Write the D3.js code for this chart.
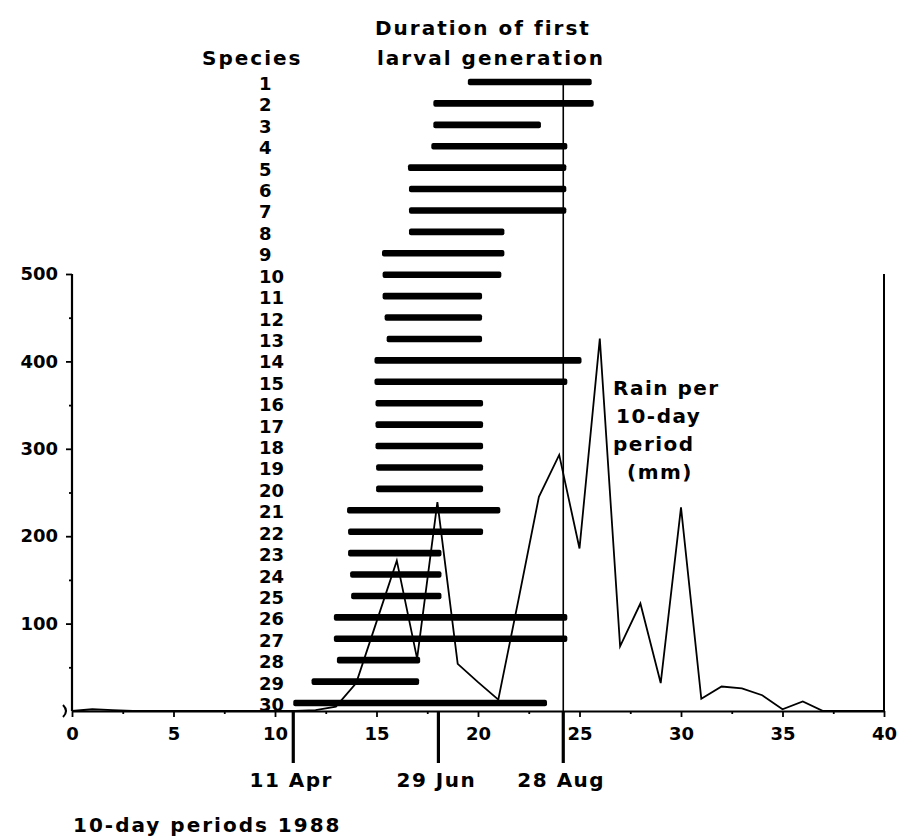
<!DOCTYPE html>
<html>
<head>
<meta charset="utf-8">
<script src="https://cdn.jsdelivr.net/npm/d3@7/dist/d3.min.js"></script>
<style>
body { margin: 0; background: #fff; }
text { font-family: "DejaVu Sans", sans-serif; font-weight: bold; fill: #000; }
</style>
</head>
<body>
<svg id="chart" width="900" height="838"></svg>
<script>
// first larval generation, start and end in 10-day periods
var species = [1, 2, 3, 4, 5, 6, 7, 8, 9, 10, 11, 12, 13, 14, 15,
               16, 17, 18, 19, 20, 21, 22, 23, 24, 25, 26, 27, 28, 29, 30];
var genStart = [19.5, 17.8, 17.8, 17.7, 16.55, 16.6, 16.6, 16.6, 15.27, 15.3,
                15.3, 15.4, 15.5, 14.9, 14.9, 14.95, 14.95, 14.95, 14.98, 14.98,
                13.55, 13.6, 13.6, 13.7, 13.75, 12.9, 12.9, 13.05, 11.8, 10.9];
var genEnd = [25.6, 25.7, 23.1, 24.4, 24.35, 24.35, 24.35, 21.3, 21.3, 21.15,
              20.2, 20.2, 20.2, 25.1, 24.4, 20.25, 20.25, 20.25, 20.25, 20.25,
              21.1, 20.25, 18.2, 18.2, 18.2, 24.4, 24.4, 17.15, 17.1, 23.4];

// rain per 10-day period (mm), periods 0..40
var rain = [0, 2, 1, 0, 0, 0, 0, 0, 0, 0,
            0, 0, 1, 5, 32, 102, 172, 60, 239, 54,
            33, 13, 128, 245, 293, 186, 426, 74, 123, 32,
            233, 14, 28, 26, 18, 2, 11, 0, 0, 0, 0];

var xTicks = [0, 5, 10, 15, 20, 25, 30, 35, 40];
var xMinor = [2.5, 7.5, 12.5, 17.5, 22.5, 27.5, 32.5, 37.5];
var yTicks = [100, 200, 300, 400, 500];
var yMinor = [50, 150, 250, 350, 450];

var dateLabels = ['11 Apr', '29 Jun', '28 Aug'];
var datePeriods = [10.9, 18.05, 24.2];

function render() {
    let svg = d3.select('#chart');
    svg.selectAll('*').remove();

    let x = d3.scaleLinear().domain([0, 40]).range([72, 884]);
    let y = d3.scaleLinear().domain([0, 500]).range([711, 274]);
    // species rows
    let sy = d3.scaleLinear().domain([1, 30]).range([82, 703]);

    svg.append('rect')
        .attr('width', 900).attr('height', 838)
        .style('fill', '#fff');

    // Headings
    svg.append('text').attr('x', 202).attr('y', 65)
        .attr('font-size', 20).attr('letter-spacing', 2)
        .text('Species');
    svg.append('text').attr('x', 375).attr('y', 35)
        .attr('font-size', 20).attr('letter-spacing', 2)
        .text('Duration of first');
    svg.append('text').attr('x', 377).attr('y', 65)
        .attr('font-size', 20).attr('letter-spacing', 2)
        .text('larval generation');

    // Axes
    let xAxis = svg.append('g')
        .attr('transform', 'translate(0,' + y(0) + ')')
        .call(d3.axisBottom(x).tickValues(xTicks).tickSize(6).tickSizeOuter(0).tickPadding(10));
    svg.append('g')
        .attr('transform', 'translate(0,' + y(0) + ')')
        .call(d3.axisBottom(x).tickValues(xMinor).tickSize(3).tickSizeOuter(0).tickFormat(''))
        .select('.domain').remove();
    let yAxis = svg.append('g')
        .attr('transform', 'translate(' + x(0) + ',0)')
        .call(d3.axisLeft(y).tickValues(yTicks).tickSize(6).tickSizeOuter(0).tickPadding(8));
    svg.append('g')
        .attr('transform', 'translate(' + x(0) + ',0)')
        .call(d3.axisLeft(y).tickValues(yMinor).tickSize(3).tickSizeOuter(0).tickFormat(''))
        .select('.domain').remove();
    // y domain runs from 0 to 500 only
    yAxis.select('.domain').attr('d', 'M0,' + y(0) + 'V' + y(500));

    svg.selectAll('.domain').style('stroke', '#000').style('stroke-width', 2.2);
    svg.selectAll('.tick line').style('stroke', '#000').style('stroke-width', 1.8);
    svg.selectAll('.tick text')
        .attr('font-family', 'DejaVu Sans')
        .attr('font-weight', 'bold')
        .attr('font-size', 18)
        .style('fill', '#000');

    // little mark at the start of the x axis
    svg.append('path')
        .attr('d', 'M' + (x(0) - 9) + ',' + (y(0) - 6) + 'Q' + (x(0) - 3) + ',' + y(0) + ' ' + (x(0) - 9) + ',' + (y(0) + 6))
        .style('fill', 'none').style('stroke', '#000').style('stroke-width', 2);

    // right frame line
    svg.append('line')
        .attr('x1', x(40)).attr('x2', x(40))
        .attr('y1', y(500)).attr('y2', y(0))
        .style('stroke', '#000').style('stroke-width', 2);

    // date markers below axis
    let last = datePeriods.length - 1;
    svg.append('line')
        .attr('x1', x(datePeriods[last])).attr('x2', x(datePeriods[last]))
        .attr('y1', sy(1)).attr('y2', y(0))
        .style('stroke', '#000').style('stroke-width', 1.6);
    svg.selectAll('.dateLine')
        .data(datePeriods)
        .enter()
        .append('line')
        .attr('class', 'dateLine')
        .attr('x1', d => x(d)).attr('x2', d => x(d))
        .attr('y1', y(0)).attr('y2', y(0) + 52)
        .style('stroke', '#000').style('stroke-width', 3.2);
    svg.selectAll('.dateText')
        .data(dateLabels)
        .enter()
        .append('text')
        .attr('class', 'dateText')
        .attr('x', (d, i) => x(datePeriods[i]) - 2)
        .attr('y', 787)
        .attr('text-anchor', 'middle')
        .attr('font-size', 20).attr('letter-spacing', 1.5)
        .text(d => d);

    // Rain line
    let line = d3.line()
        .x((d, i) => x(i))
        .y(d => y(d));
    svg.append('path')
        .datum(rain)
        .attr('d', line)
        .style('fill', 'none')
        .style('stroke', '#000')
        .style('stroke-width', 1.8)
        .style('stroke-linejoin', 'miter');

    // Species labels and generation bars
    svg.selectAll('.spLabel')
        .data(species)
        .enter()
        .append('text')
        .attr('class', 'spLabel')
        .attr('x', 259)
        .attr('y', d => sy(d) + 8)
        .attr('font-size', 18)
        .text(d => d);
    svg.selectAll('.bar')
        .data(species)
        .enter()
        .append('rect')
        .attr('class', 'bar')
        .attr('x', (d, i) => x(genStart[i]))
        .attr('width', (d, i) => x(genEnd[i]) - x(genStart[i]))
        .attr('y', d => sy(d) - 3.3)
        .attr('height', 6.6)
        .attr('rx', 2)
        .style('fill', '#000');

    // Rain label
    let rainText = ['Rain per', '10-day', 'period', '(mm)'];
    let rainX = [613, 616, 613, 627];
    svg.selectAll('.rainLabel')
        .data(rainText)
        .enter()
        .append('text')
        .attr('class', 'rainLabel')
        .attr('x', (d, i) => rainX[i])
        .attr('y', (d, i) => 395 + i * 28)
        .attr('font-size', 20).attr('letter-spacing', 1.5)
        .text(d => d);

    // x axis title
    svg.append('text').attr('x', 73).attr('y', 832)
        .attr('font-size', 20).attr('letter-spacing', 2)
        .text('10-day periods 1988');
}

render();
</script>
</body>
</html>
